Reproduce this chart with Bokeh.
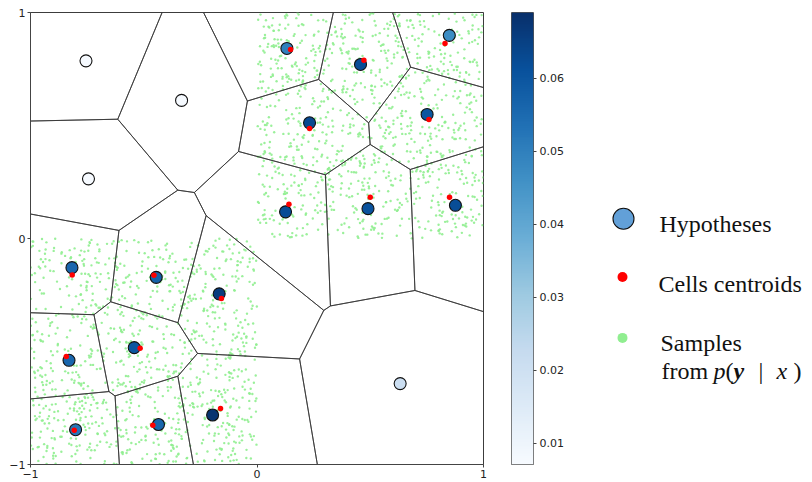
import numpy as np
from bokeh.plotting import figure
from bokeh.layouts import row
from bokeh.models import (Range1d, FixedTicker, LinearColorMapper, ColumnDataSource,
                          PrintfTickFormatter)
from bokeh.palettes import Blues256
from bokeh.core.properties import value
from bokeh.embed import file_html
from bokeh.resources import INLINE

# ---------------- data ----------------
hyp_x = [-0.755, -0.333, -0.744, 0.132, 0.457, 0.849, 0.232, 0.751, 0.126, 0.490,
         0.876, -0.817, -0.445, -0.167, -0.830, -0.542, -0.196, -0.435, -0.801, 0.632]
hyp_y = [0.786, 0.611, 0.264, 0.841, 0.770, 0.899, 0.512, 0.549, 0.118, 0.132,
         0.147, -0.129, -0.172, -0.245, -0.539, -0.483, -0.781, -0.823, -0.846, -0.642]
hyp_val = [0.0075, 0.0075, 0.0075, 0.050, 0.062, 0.047, 0.063, 0.060, 0.062, 0.061,
           0.062, 0.056, 0.057, 0.066, 0.056, 0.060, 0.068, 0.056, 0.052, 0.021]

cen_x = [0.148, 0.472, 0.830, 0.232, 0.759, 0.141, 0.500, 0.850,
         -0.816, -0.455, -0.157, -0.842, -0.516, -0.161, -0.460, -0.807]
cen_y = [0.836, 0.789, 0.863, 0.487, 0.527, 0.152, 0.183, 0.183,
         -0.162, -0.163, -0.266, -0.522, -0.486, -0.752, -0.826, -0.849]

# sample support: two unit squares (x0, x1, y0, y1), samples per square
sample_boxes = [(0.0, 1.0, 0.0, 1.0), (-1.0, 0.0, -1.0, 0.0)]
samples_per_box = 1100

cb_min, cb_max = 0.0071, 0.0690
cb_ticks = [0.01, 0.02, 0.03, 0.04, 0.05, 0.06]
axis_ticks = [-1, 0, 1]
axis_tick_labels = {-1: "\u22121", 0: "0", 1: "1"}

# ---------------- derived ----------------
rng = np.random.default_rng(7)
sx, sy = [], []
for (x0, x1, y0, y1) in sample_boxes:
    sx.extend(rng.uniform(x0, x1, samples_per_box))
    sy.extend(rng.uniform(y0, y1, samples_per_box))

pts = np.column_stack([hyp_x, hyp_y])


def clip(poly, a, b):
    n = b - a
    c = (a + b) / 2.0
    out = []
    m = len(poly)
    for i in range(m):
        P = poly[i]
        Q = poly[(i + 1) % m]
        dp = np.dot(P - c, n)
        dq = np.dot(Q - c, n)
        if dp <= 0:
            out.append(P)
        if dp * dq < 0:
            t = dp / (dp - dq)
            out.append(P + t * (Q - P))
    return out


cells_x, cells_y = [], []
for i in range(len(pts)):
    poly = [np.array(v, dtype=float) for v in [(-1, -1), (1, -1), (1, 1), (-1, 1)]]
    for j in range(len(pts)):
        if i != j:
            poly = clip(poly, pts[i], pts[j])
    cells_x.append([float(v[0]) for v in poly])
    cells_y.append([float(v[1]) for v in poly])

palette = list(Blues256)[::-1]
mapper = LinearColorMapper(palette=palette, low=cb_min, high=cb_max)

TICK_FONT = "DejaVu Sans"
TICK_SIZE = "11px"
AX_COL = "#222222"

H = 482
W1, W2 = 488, 82
W3 = 812 - W1 - W2

# ---------------- main plot ----------------
p1 = figure(width=W1, height=H, x_range=Range1d(-1, 1), y_range=Range1d(-1, 1),
            output_backend="svg", toolbar_location=None,
            min_border_left=30, min_border_right=5, min_border_top=12, min_border_bottom=17)
p1.grid.visible = False
p1.outline_line_color = "#444444"
p1.outline_line_width = 1
for ax in (p1.xaxis[0], p1.yaxis[0]):
    ax.ticker = FixedTicker(ticks=axis_ticks)
    ax.major_label_overrides = axis_tick_labels
    ax.major_tick_out = 3
    ax.major_tick_in = 0
    ax.minor_tick_line_color = None
    ax.major_label_standoff = 2
    ax.axis_line_color = "#444444"
    ax.major_tick_line_color = "#444444"
    ax.major_label_text_font = TICK_FONT
    ax.major_label_text_font_size = TICK_SIZE
    ax.major_label_text_color = AX_COL

p1.scatter(sx, sy, size=2.4, color="#90ee90", alpha=0.9, line_color=None)
p1.patches(cells_x, cells_y, fill_color=None, line_color="#333333", line_width=0.8)
hsrc = ColumnDataSource(dict(x=hyp_x, y=hyp_y, v=hyp_val))
p1.scatter("x", "y", source=hsrc, size=12, fill_color={"field": "v", "transform": mapper},
           line_color="#111111", line_width=1.1)
p1.scatter(cen_x, cen_y, size=5.5, color="#ff0000", line_color=None)

# ---------------- colorbar ----------------
p2 = figure(width=W2, height=H, x_range=Range1d(0, 1), y_range=Range1d(cb_min, cb_max),
            y_axis_location="right", output_backend="svg", toolbar_location=None,
            min_border_left=23, min_border_right=37, min_border_top=12, min_border_bottom=18)
p2.xaxis.visible = False
p2.grid.visible = False
p2.outline_line_color = "#555555"
grad = np.linspace(cb_min, cb_max, 256).reshape(256, 1)
p2.image(image=[grad], x=0, y=cb_min, dw=1, dh=cb_max - cb_min, color_mapper=mapper)
ya = p2.yaxis[0]
ya.ticker = FixedTicker(ticks=cb_ticks)
ya.formatter = PrintfTickFormatter(format="%.2f")
ya.major_tick_out = 3
ya.major_tick_in = 0
ya.minor_tick_line_color = None
ya.axis_line_color = None
ya.major_tick_line_color = "#444444"
ya.major_label_standoff = 3
ya.major_label_text_font = TICK_FONT
ya.major_label_text_font_size = TICK_SIZE
ya.major_label_text_color = AX_COL

# ---------------- legend panel ----------------
p3 = figure(width=W3, height=H, x_range=Range1d(0, W3), y_range=Range1d(H, 0),
            output_backend="svg", toolbar_location=None,
            min_border_left=0, min_border_right=0, min_border_top=0, min_border_bottom=0)
p3.axis.visible = False
p3.grid.visible = False
p3.outline_line_color = None

ox = W1 + W2  # page x offset of this panel
SERIF = value("Liberation Serif")
FS = "24px"
p3.scatter([623 - ox], [220], size=21, fill_color="#62a0d8", line_color="#111111",
           line_width=1.1)
p3.scatter([622 - ox], [282], size=10, color="#ff0000", line_color=None)
p3.scatter([622 - ox], [347], size=10, color="#90ee90", line_color=None)

lab_x = [659 - ox, 658 - ox, 660 - ox]
lab_y = [226, 290, 352]
lab_t = ["Hypotheses", "Cells centroids", "Samples"]
p3.text(lab_x, lab_y, text=lab_t, text_font=SERIF, text_font_size=FS,
        text_baseline="alphabetic", text_color="#111111")

by = 382
pieces = [("from", 661, "normal"), ("p", 713, "italic"), ("(", 725, "normal"),
          ("y", 733, "bold italic"), ("|", 758, "normal"), ("x", 776, "italic"),
          (")", 793, "normal")]
for t, px, st in pieces:
    p3.text([px - ox], [by], text=[t], text_font=SERIF, text_font_size=FS,
            text_font_style=st, text_baseline="alphabetic", text_color="#111111")

layout = row(p1, p2, p3)
open("out.html", "w").write(file_html(layout, INLINE))
